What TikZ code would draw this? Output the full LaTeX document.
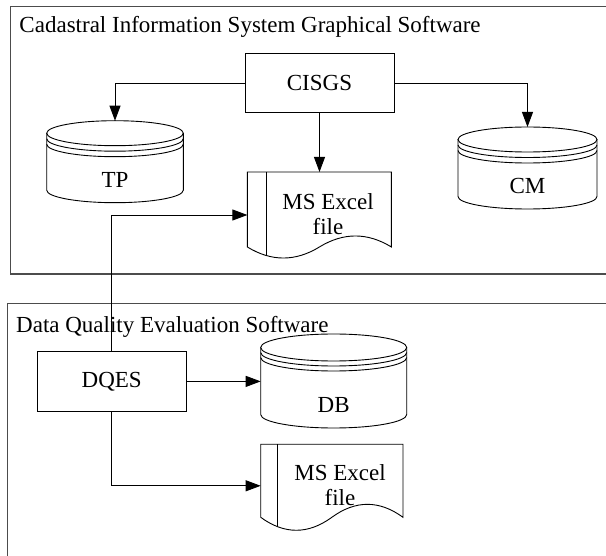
\documentclass[tikz,border=0pt]{standalone}
\usepackage{fontspec}
\setmainfont{Liberation Serif}
\usetikzlibrary{arrows.meta,calc}

% cylinder-style data store drawn around a named node
% #1 node, #2 half width, #3 ellipse y radius, #4 first ring offset, #5 second ring offset
\newcommand\drumshape[5]{%
  \draw[shapeline] ([yshift=-#3]#1.north) ellipse[x radius=#2, y radius=#3];
  \draw[shapeline] ([yshift=-#3-#4]#1.north west) arc[start angle=180, end angle=360, x radius=#2, y radius=#3];
  \draw[shapeline] ([yshift=-#3-#5]#1.north west) arc[start angle=180, end angle=360, x radius=#2, y radius=#3];
  \draw[shapeline] ([yshift=-#3]#1.north west) -- ([yshift=#3]#1.south west)
    arc[start angle=180, end angle=360, x radius=#2, y radius=#3]
    -- ([yshift=-#3]#1.north east);
}

% document sheet with a wavy lower edge drawn around a named node
% #1 node, #2 width, #3 depth to the middle of the wave, #4 wave control height, #5 inner rule x
\newcommand\sheetshape[5]{%
  \begin{scope}[shift={(#1.north west)}]
    \draw[shapeline] (0,0) -- (#2,0) -- (#2,-#3)
      .. controls ({#2*5/6},{-#3+#4}) and ({#2*4/6},{-#3+#4}) .. ({#2/2},-#3)
      .. controls ({#2/3},{-#3-#4}) and ({#2/6},{-#3-#4}) .. (0,-#3) -- cycle;
    \draw[shapeline] (#5,0) -- ({#5},{-#3-3*#4*(1-2*#5/#2)*(2*#5/#2)});
  \end{scope}
}

\tikzset{
  shapeline/.style={draw=black, line width=0.9pt},
  frame/.style={draw=black!70, line width=1.2pt},
  procbox/.style={draw=black, line width=0.9pt, rectangle, inner sep=0pt, outer sep=0pt,
    font=\fontsize{23}{25}\selectfont},
  holder/.style={rectangle, inner sep=0pt, outer sep=0pt},
  lbl/.style={inner sep=0pt, font=\fontsize{23}{25}\selectfont},
  doclbl/.style={inner sep=0pt, align=center, font=\fontsize{23}{25}\selectfont},
  frametitle/.style={anchor=base west, inner sep=0pt, font=\fontsize{23}{25}\selectfont},
  arr/.style={draw=black, line width=0.9pt, -{Triangle[length=15pt, width=11pt]}},
}

\begin{document}
\begin{tikzpicture}[x=1pt, y=1pt]
  \useasboundingbox (0,0) rectangle (606,-556);
  \clip (0,0) rectangle (606,-556);

  % the two software frames
  \draw[frame] (10.7,-6.7) rectangle (640,-274);
  \node[frametitle] (title1) at (19.3,-33) {Cadastral Information System Graphical Software};
  \draw[frame] (7.3,-303.3) rectangle (640,-620);
  \node[frametitle] (title2) at (16,-333) {Data Quality Evaluation Software};

  % process boxes
  \node[procbox, minimum width=149pt, minimum height=58.7pt] (cisgs) at (319.5,-83.3) {CISGS};
  \node[procbox, minimum width=148.7pt, minimum height=59.3pt] (dqes) at (111.7,-381.4) {DQES};

  % data stores
  \node[holder, minimum width=136.6pt, minimum height=82pt] (tp) at (115,-161.7) {};
  \drumshape{tp}{68.3pt}{12.5pt}{5.5pt}{11pt}
  \node[lbl] (tplabel) at (115,-180) {TP};

  \node[holder, minimum width=139pt, minimum height=82pt] (cm) at (527.5,-168) {};
  \drumshape{cm}{69.5pt}{12.5pt}{5.5pt}{11pt}
  \node[lbl] (cmlabel) at (527.5,-186) {CM};

  \node[holder, minimum width=146pt, minimum height=94pt] (db) at (333.7,-381) {};
  \drumshape{db}{73pt}{13.5pt}{5pt}{10pt}
  \node[lbl] (dblabel) at (333.7,-405) {DB};

  % spreadsheet documents
  \node[holder, minimum width=144pt, minimum height=86pt] (doc1) at (319.4,-215) {};
  \sheetshape{doc1}{144}{75}{14.7}{19.5}
  \node[doclbl] (doc1label) at (328,-214) {MS Excel\\file};

  \node[holder, minimum width=142.3pt, minimum height=86pt] (doc2) at (331.85,-487.3) {};
  \sheetshape{doc2}{142.3}{73}{17.3}{16.6}
  \node[doclbl] (doc2label) at (340,-485) {MS Excel\\file};

  % connectors
  \draw[arr] (cisgs.west) -| (tp.north);
  \draw[arr] (cisgs.east) -| (cm.north);
  \draw[arr] (cisgs.south) -- (doc1.north -| cisgs.south);
  \draw[arr] (dqes.north) |- (doc1.west);
  \draw[arr] (dqes.east) -- (dqes.east -| db.west);
  \draw[arr] (dqes.south) |- ([yshift=1.5pt]doc2.west);
\end{tikzpicture}
\end{document}
